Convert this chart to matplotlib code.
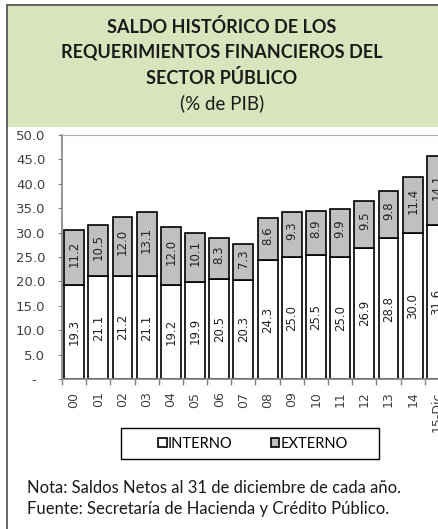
import numpy as np
import matplotlib
matplotlib.use("Agg")
import matplotlib.pyplot as plt
from matplotlib.patches import Rectangle, Patch
from matplotlib.lines import Line2D

# Data
years = ['00', '01', '02', '03', '04', '05', '06', '07', '08', '09',
         '10', '11', '12', '13', '14', '15-Dic']
interno = [19.3, 21.1, 21.2, 21.1, 19.2, 19.9, 20.5, 20.3, 24.3, 25.0,
           25.5, 25.0, 26.9, 28.8, 30.0, 31.6]
externo = [11.2, 10.5, 12.0, 13.1, 12.0, 10.1, 8.3, 7.3, 8.6, 9.3,
           8.9, 9.9, 9.5, 9.8, 11.4, 14.1]
yticks = [0, 5, 10, 15, 20, 25, 30, 35, 40, 45, 50]

W, H = 439, 529
fig = plt.figure(figsize=(W / 100, H / 100), dpi=100)
fig.patch.set_facecolor('white')

# Title box and frame
fig.patches.append(Rectangle((7 / W, 1 - 127 / H), 1, 122 / H, transform=fig.transFigure,
                             facecolor='#d8e4bc', edgecolor='none', zorder=0))
fig.lines.append(Line2D([7 / W, 7 / W], [0, 1 - 5 / H], transform=fig.transFigure,
                        color='#595959', lw=1.3))
fig.lines.append(Line2D([7 / W, 1], [1 - 5 / H, 1 - 5 / H], transform=fig.transFigure,
                        color='#595959', lw=1.3))

title_lines = ['SALDO HISTÓRICO DE LOS', 'REQUERIMIENTOS FINANCIEROS DEL', 'SECTOR PÚBLICO']
for i, t in enumerate(title_lines):
    fig.text(222 / W, 1 - (27 + 25.5 * i) / H, t, ha='center', va='center',
             fontsize=13, fontweight='bold', family='Lato', color='#1a1a1a')
fig.text(222 / W, 1 - 103 / H, '(% de PIB)', ha='center', va='center',
         fontsize=13.5, family='Lato', color='#1a1a1a')

# Axes
ax = fig.add_axes([62 / W, 1 - 379 / H, 387 / W, 244 / H])
x = np.arange(len(years))
bw = 0.82
ax.bar(x, interno, bw, color='white', edgecolor='black', lw=1.2, label='INTERNO', zorder=2)
ax.bar(x, externo, bw, bottom=interno, color='#c0c0c0', edgecolor='black', lw=1.2,
       label='EXTERNO', zorder=2)

for i in range(len(years)):
    ax.text(x[i], interno[i] / 2, f'{interno[i]:.1f}', rotation=90, ha='center', va='center',
            fontsize=8.5, color='#222222')
    ax.text(x[i], interno[i] + externo[i] / 2 + 0.8, f'{externo[i]:.1f}', rotation=90,
            ha='center', va='center', fontsize=8.5, color='#222222')

ax.set_xlim(-0.5, 15.5)
ax.set_ylim(0, 50)
ax.set_yticks(yticks)
ax.set_yticklabels(['-  ' if v == 0 else f'{v:.1f}' for v in yticks])
ax.set_xticks(x)
ax.set_xticklabels(years, rotation=90, fontsize=9, color='#404040')
ax.set_xticks(np.arange(-0.5, 16, 1), minor=True)
ax.tick_params(axis='x', which='major', length=0, pad=9)
ax.tick_params(axis='x', which='minor', length=4, color='#808080', width=1)
ax.tick_params(axis='y', length=3, color='#808080', labelsize=9.5, labelcolor='#404040', pad=9)
for s in ['left', 'bottom']:
    ax.spines[s].set_color('#808080')
    ax.spines[s].set_linewidth(1.2)
ax.spines['top'].set_color('#b0b0b0')
ax.spines['right'].set_visible(False)

# Legend
fig.patches.append(Rectangle((121 / W, 1 - 459 / H), 258 / W, 31 / H, transform=fig.transFigure,
                             facecolor='white', edgecolor='black', lw=1))
handles = [Patch(facecolor='white', edgecolor='black', lw=1.2),
           Patch(facecolor='#c0c0c0', edgecolor='black', lw=1.2)]
fig.legend(handles, ['INTERNO', 'EXTERNO'], loc='center', bbox_to_anchor=(253 / W, 1 - 443.5 / H),
           ncol=2, frameon=False, handlelength=0.55, handleheight=0.55, handletextpad=0.1,
           columnspacing=2.6, prop={'family': 'Lato', 'size': 10.5})

fig.text(27 / W, 1 - 488 / H, 'Nota: Saldos Netos al 31 de diciembre de cada año.',
         ha='left', va='center', fontsize=12, family='Lato', color='#1a1a1a')
fig.text(27 / W, 1 - 509 / H, 'Fuente: Secretaría de Hacienda y Crédito Público.',
         ha='left', va='center', fontsize=12, family='Lato', color='#1a1a1a')

fig.savefig('out.png', dpi=100)
